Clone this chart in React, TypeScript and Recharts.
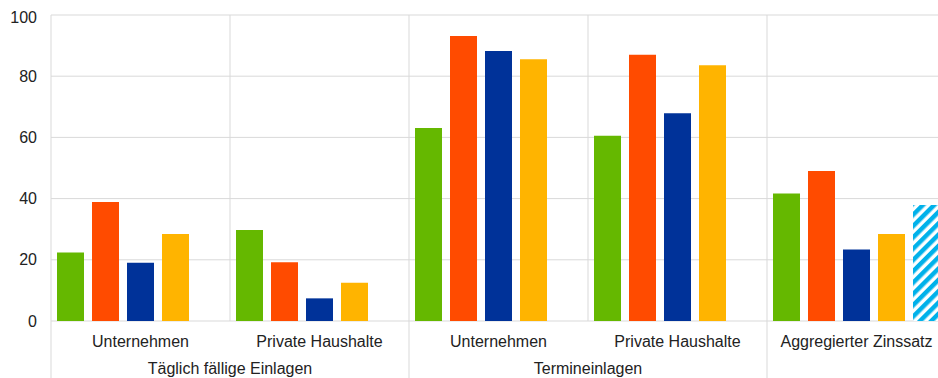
import React from "react";
import { BarChart, Bar, XAxis, YAxis, CartesianGrid } from "recharts";

const categories = ["Unternehmen", "Private Haushalte", "Unternehmen", "Private Haushalte", "Aggregierter Zinssatz"];
const groupLabels = ["Täglich fällige Einlagen", "", "Termineinlagen", "", ""];
const groupStarts = [true, false, true, false, true];
const seriesA = [22.4, 29.7, 63.1, 60.5, 41.7];
const seriesB = [38.9, 19.2, 93.1, 87.0, 49.0];
const seriesC = [19.0, 7.4, 88.2, 67.9, 23.4];
const seriesD = [28.4, 12.5, 85.5, 83.6, 28.4];
const seriesE = [null, null, null, null, 37.9];
const yTicks = [0, 20, 40, 60, 80, 100];

const data = categories.map((c, i) => ({
  key: "k" + i,
  a: seriesA[i],
  b: seriesB[i],
  c: seriesC[i],
  d: seriesD[i],
  e: seriesE[i],
}));

const FONT = "'Liberation Sans', Arial, sans-serif";
const TEXT = "#222222";
const GRID = "#d9d9d9";
const CAT_AXIS_H = 28;
const GROUP_AXIS_H = 29;

function halfBand(props: any) {
  const p = props.payload || {};
  if (typeof p.offset === "number" && p.offset > 0) return p.offset;
  return props.width / (props.visibleTicksCount || categories.length) / 2;
}

const CatTick = (props: any) => {
  const { x, y, index } = props;
  return (
    <text x={x} y={y + 26} textAnchor="middle" fontFamily={FONT} fontSize={16} fill={TEXT}>
      {categories[index]}
    </text>
  );
};

const GroupTick = (props: any) => {
  const { x, y, index } = props;
  const hb = halfBand(props);
  return (
    <g>
      {groupStarts[index] ? (
        <line x1={x - hb} x2={x - hb} y1={y - CAT_AXIS_H} y2={y + GROUP_AXIS_H + 10} stroke={GRID} strokeWidth={1} />
      ) : null}
      {groupLabels[index] ? (
        <text x={x + hb} y={y + 25} textAnchor="middle" fontFamily={FONT} fontSize={16} fill={TEXT}>
          {groupLabels[index]}
        </text>
      ) : null}
    </g>
  );
};

export default function App() {
  return (
    <div style={{ position: "fixed", left: 8, top: 8, width: 930, height: 370, overflow: "hidden", background: "#fff" }}>
      <svg width={0} height={0} style={{ position: "absolute" }}>
        <defs>
          <pattern id="hatchBlue" patternUnits="userSpaceOnUse" width={8} height={8} patternTransform="rotate(45)">
            <rect x={0} y={0} width={8} height={8} fill="#ffffff" />
            <rect x={0} y={0} width={4.5} height={8} fill="#00b1ea" />
          </pattern>
        </defs>
      </svg>
      <BarChart
        width={938}
        height={370}
        data={data}
        margin={{ top: 7, right: 0, bottom: 0, left: 0 }}
        barCategoryGap={6}
        barGap={8}
      >
        <CartesianGrid
          stroke={GRID}
          strokeWidth={1}
          verticalCoordinatesGenerator={({ offset }: any) =>
            [0, 1, 2, 3, 4].map((i) => offset.left + (offset.width * i) / categories.length)
          }
        />
        <YAxis
          domain={[0, 100]}
          ticks={yTicks}
          width={43}
          axisLine={false}
          tickLine={false}
          tickSize={0}
          tickMargin={14}
          tick={{ fontFamily: FONT, fontSize: 16, fill: TEXT }}
        />
        <XAxis
          xAxisId={0}
          dataKey="key"
          height={CAT_AXIS_H}
          axisLine={false}
          tickLine={false}
          tickSize={0}
          tickMargin={0}
          interval={0}
          tick={<CatTick />}
        />
        <XAxis
          xAxisId="group"
          dataKey="key"
          height={GROUP_AXIS_H}
          axisLine={false}
          tickLine={false}
          tickSize={0}
          tickMargin={0}
          interval={0}
          tick={<GroupTick />}
        />
        <Bar dataKey="a" fill="#65b800" isAnimationActive={false} />
        <Bar dataKey="b" fill="#ff4b00" isAnimationActive={false} />
        <Bar dataKey="c" fill="#003299" isAnimationActive={false} />
        <Bar dataKey="d" fill="#ffb400" isAnimationActive={false} />
        <Bar dataKey="e" fill="url(#hatchBlue)" isAnimationActive={false} />
      </BarChart>
    </div>
  );
}
